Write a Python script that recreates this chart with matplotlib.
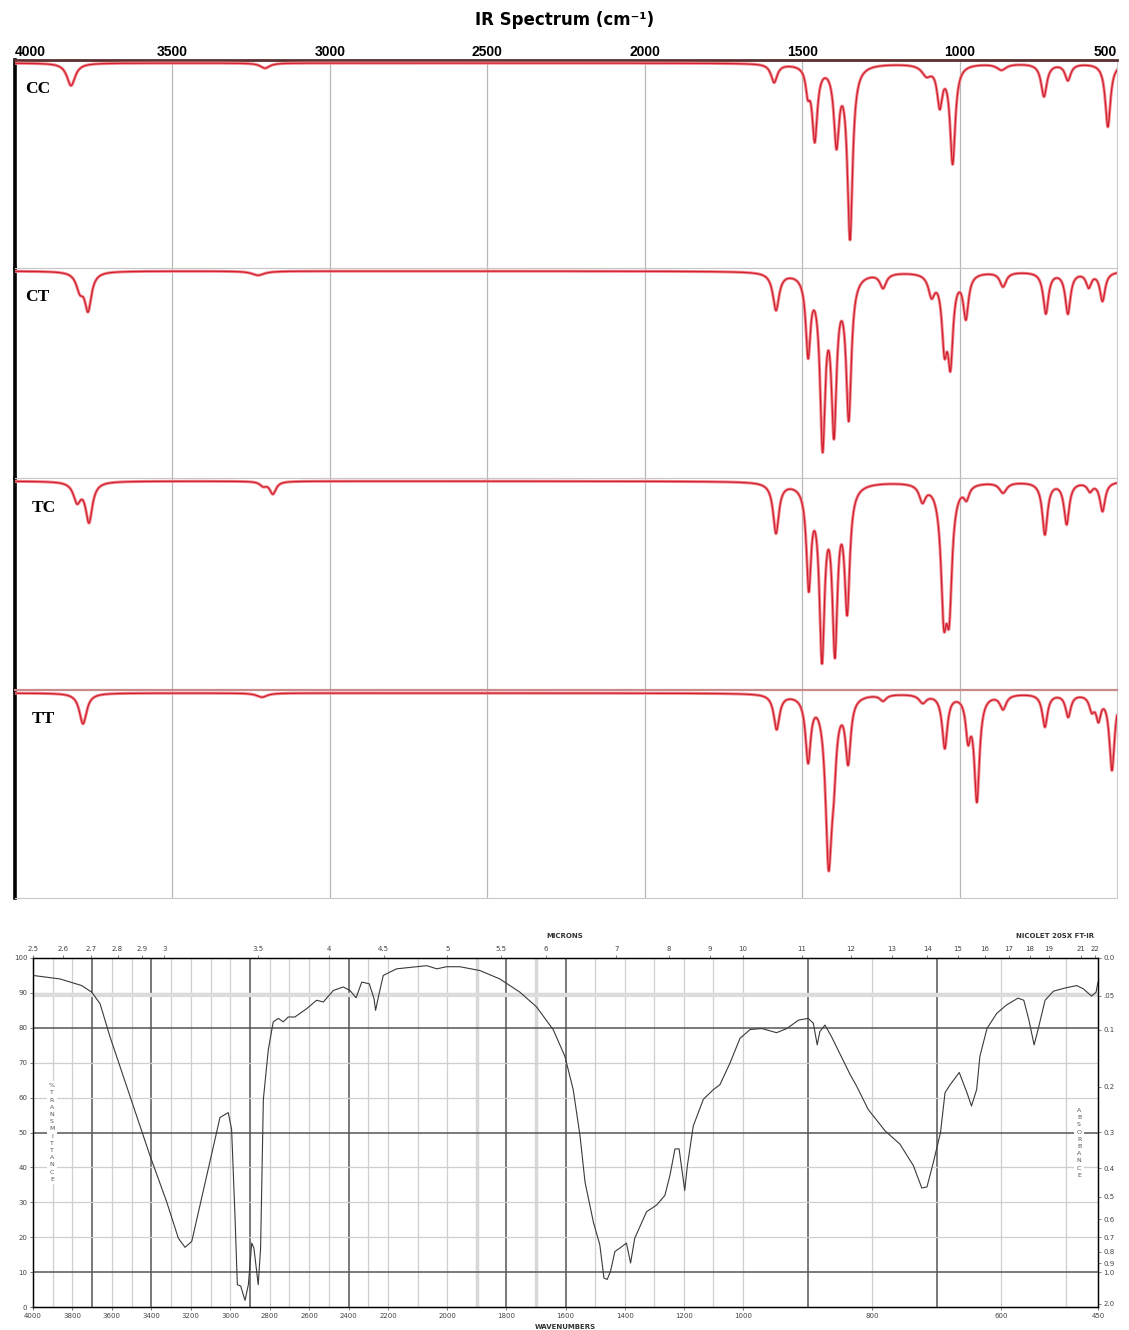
import numpy as np
import matplotlib
matplotlib.use("Agg")
import matplotlib.pyplot as plt

# ---- computed spectra (peak centre cm-1, depth as fraction of panel, half width cm-1)
cc_pos = [3822, 3206, 1589, 1482, 1460, 1391, 1348, 1105, 1063, 1022, 867, 732, 656, 529]
cc_int = [0.11, 0.025, 0.09, 0.11, 0.36, 0.37, 0.84, 0.05, 0.19, 0.48, 0.03, 0.16, 0.08, 0.31]
cc_wid = [16, 18, 12, 8, 10, 10, 10, 18, 10, 10, 18, 11, 11, 10]

ct_pos = [3794, 3768, 3228, 1583, 1481, 1435, 1399, 1352, 1243, 1089, 1048, 1029, 980, 862, 726, 656, 590, 546]
ct_int = [0.08, 0.18, 0.02, 0.18, 0.37, 0.80, 0.72, 0.68, 0.07, 0.10, 0.32, 0.40, 0.21, 0.07, 0.20, 0.20, 0.07, 0.14]
ct_wid = [14, 13, 24, 12, 9, 10, 10, 10, 12, 12, 10, 10, 10, 12, 10, 10, 10, 10]

tc_pos = [3803, 3765, 3212, 3181, 1583, 1479, 1437, 1396, 1357, 1118, 1050, 1033, 978, 862, 729, 660, 586, 546]
tc_int = [0.09, 0.19, 0.02, 0.06, 0.24, 0.47, 0.80, 0.76, 0.58, 0.08, 0.55, 0.53, 0.06, 0.05, 0.25, 0.20, 0.04, 0.14]
tc_wid = [14, 13, 12, 12, 11, 9, 10, 10, 10, 12, 11, 11, 10, 14, 10, 10, 10, 10]

tt_pos = [3784, 3216, 1581, 1481, 1416, 1400, 1354, 1243, 1117, 1047, 973, 945, 862, 729, 655, 580, 559, 516]
tt_int = [0.15, 0.02, 0.17, 0.31, 0.78, 0.25, 0.31, 0.03, 0.04, 0.26, 0.19, 0.51, 0.07, 0.16, 0.11, 0.07, 0.11, 0.37]
tt_wid = [14, 20, 11, 10, 12, 10, 10, 12, 14, 10, 9, 10, 12, 10, 10, 10, 9, 10]

panel_names = ["CC", "CT", "TC", "TT"]
top_ticks = [4000, 3500, 3000, 2500, 2000, 1500, 1000, 500]

# ---- measured FT-IR spectrum (wavenumber, %T)
ir_wn = [4000, 3863, 3753, 3702, 3660, 3610, 3508, 3407, 3322, 3263, 3229, 3195, 3119, 3052,
         3010, 2993, 2976, 2964, 2947, 2925, 2908, 2891, 2880, 2858, 2846, 2832, 2807, 2782,
         2756, 2731, 2706, 2672, 2612, 2562, 2528, 2477, 2427, 2393, 2362, 2333, 2295, 2271,
         2263, 2249, 2224, 2171, 2069, 2035, 2002, 1957, 1889, 1822, 1754, 1698, 1641, 1602,
         1574, 1551, 1534, 1506, 1484, 1470, 1459, 1448, 1433, 1416, 1394, 1380, 1366, 1326,
         1292, 1264, 1247, 1230, 1216, 1204, 1197, 1188, 1168, 1134, 1100, 1078, 1044, 1010,
         989, 971, 948, 932, 914, 899, 891, 885, 881, 873, 863, 834, 824, 806, 780, 757, 736,
         723, 715, 705, 694, 687, 679, 665, 653, 646, 638, 633, 622, 607, 592, 574, 565, 557,
         549, 543, 532, 519, 501, 483, 473, 460, 453, 450]
ir_t = [95.0, 94.0, 92.1, 90.2, 86.9, 77.5, 60.4, 43.4, 30.1, 19.7, 17.1, 18.8, 37.7, 54.3,
        55.7, 50.9, 26.3, 6.4, 6.0, 1.9, 6.4, 18.3, 16.9, 6.4, 16.9, 59.5, 73.7, 81.7,
        82.7, 81.7, 83.1, 83.1, 85.5, 87.9, 87.4, 90.7, 91.7, 90.7, 88.6, 93.1, 92.6, 88.4,
        85.0, 88.8, 95.0, 96.9, 97.8, 96.9, 97.5, 97.5, 96.4, 94.0, 90.2, 86.0, 79.4, 71.8,
        62.3, 49.1, 35.8, 24.4, 17.8, 8.3, 7.9, 10.2, 15.9, 16.9, 18.3, 12.6, 19.7, 27.3,
        29.2, 32.0, 37.7, 45.3, 45.3, 37.7, 33.4, 40.5, 51.9, 59.5, 62.3, 63.7, 69.9, 77.0,
        79.5, 79.8, 78.6, 79.8, 82.2, 82.7, 81.3, 75.1, 78.9, 80.8, 77.5, 66.6, 63.3, 56.6, 50.5, 46.7, 40.5,
        34.1, 34.4, 41.5, 50.0, 61.4, 63.7, 67.2, 61.4, 57.6, 62.3, 71.8, 79.8, 84.1, 86.5, 88.5, 87.9, 82.2,
        75.1, 79.4, 87.9, 90.5, 91.4, 92.1, 91.2, 89.1, 90.2, 93.1]

wn_ticks = [4000, 3800, 3600, 3400, 3200, 3000, 2800, 2600, 2400, 2200, 2000, 1800, 1600,
            1400, 1200, 1000, 800, 600, 450]
micron_ticks = [2.5, 2.6, 2.7, 2.8, 2.9, 3, 3.5, 4, 4.5, 5, 5.5, 6, 7, 8, 9, 10, 11, 12,
                13, 14, 15, 16, 17, 18, 19, 21, 22]
abs_ticks = [0.0, 0.05, 0.1, 0.2, 0.3, 0.4, 0.5, 0.6, 0.7, 0.8, 0.9, 1.0, 2.0]
abs_labels = ["0.0", ".05", "0.1", "0.2", "0.3", "0.4", "0.5", "0.6", "0.7", "0.8", "0.9", "1.0", "2.0"]
dark_vlines = [3700, 3400, 2900, 2400, 1800, 1600, 900, 700]

W, H = 1129, 1330
fig = plt.figure(figsize=(W / 100, H / 100), dpi=100)


def box(x0, y0, x1, y1):
    return [x0 / W, 1 - y1 / H, (x1 - x0) / W, (y1 - y0) / H]


# ================= top: four computed spectra =================
wn = np.linspace(4000, 500, 7001)
peaks = [(cc_pos, cc_int, cc_wid), (ct_pos, ct_int, ct_wid),
         (tc_pos, tc_int, tc_wid), (tt_pos, tt_int, tt_wid)]
edges = [60, 268, 478, 690, 898]

for i, (pos, amp, wid) in enumerate(peaks):
    ax = fig.add_axes(box(15, edges[i], 1117, edges[i + 1]))
    depth = np.zeros_like(wn)
    for c, a, g in zip(pos, amp, wid):
        depth += a / (1 + ((wn - c) / g) ** 2)
    ax.plot(wn, depth, color="#f28b92", lw=2.2, zorder=3)
    ax.plot(wn, depth, color="#d0202e", lw=0.9, zorder=4)
    ax.set_xlim(4000, 500)
    ax.set_ylim(1.0, -0.015)
    for g in [3500, 3000, 2500, 2000, 1500, 1000]:
        ax.axvline(g, color="#b8b8b8", lw=0.9, zorder=1)
    ax.set_yticks([])
    ax.spines["left"].set_color("black")
    ax.spines["left"].set_linewidth(2.6)
    ax.spines["right"].set_color("#cccccc")
    ax.spines["top"].set_color("#c8c8c8")
    ax.spines["top"].set_linestyle((0, (1, 1)))
    ax.spines["bottom"].set_color("#c8c8c8")
    ax.spines["bottom"].set_linestyle((0, (1, 1)))
    if i == 0:
        ax.spines["top"].set_linestyle("-")
        ax.spines["top"].set_color("#5a3030")
        ax.spines["top"].set_linewidth(2.0)
        ax.xaxis.tick_top()
        ax.set_xticks(top_ticks)
        ax.set_xticklabels([str(t) for t in top_ticks], fontsize=10, fontweight="bold",
                           family="Liberation Sans")
        ax.tick_params(axis="x", length=0, pad=1)
        labs = ax.get_xticklabels()
        labs[0].set_ha("left")
        labs[-1].set_ha("right")
    else:
        ax.set_xticks([])
    if i == 3:
        ax.spines["top"].set_linestyle("-")
        ax.spines["top"].set_color("#c98a8a")
        ax.spines["top"].set_linewidth(1.6)
    lx = 25 if i < 2 else 32
    ax.text((lx - 15) / 1102, 0.86, panel_names[i], transform=ax.transAxes,
            fontsize=12.5, fontweight="bold", family="Liberation Serif",
            ha="left", va="center")

fig.text(565 / W, 1 - 20 / H, "IR Spectrum (cm\u207b\u00b9)", ha="center", va="center",
         fontsize=12, fontweight="bold", family="DejaVu Sans")

# ================= bottom: measured spectrum on Nicolet chart =================
# chart paper: 4000-2200, 2200-1000 and 1000-450 cm-1 each take a third of the width
seg_wn = [450, 1000, 2200, 4000]
seg_pos = [0, 1, 2, 3]


def fwd(w):
    return np.interp(np.asarray(w, float), seg_wn, seg_pos)


def inv(p):
    return np.interp(np.asarray(p, float), seg_pos, seg_wn)


bx = fig.add_axes(box(33, 958, 1098, 1307))
bx.set_xscale("function", functions=(fwd, inv))
bx.set_xlim(4000, 450)
bx.set_ylim(0, 100)

for g in range(500, 4000, 100):
    if g in dark_vlines:
        bx.axvline(g, color="#555555", lw=1.1, zorder=1)
    else:
        bx.axvline(g, color="#cfcfcf", lw=0.9, zorder=1)
for g in [1900, 1700]:
    bx.axvline(g, color="#d8d8d8", lw=2.5, zorder=1)
for g in [90, 70, 60, 40, 30, 20]:
    bx.axhline(g, color="#cfcfcf", lw=0.9, zorder=1)
bx.axhline(89.3, color="#dcdcdc", lw=3, zorder=1)
for g in [80, 50, 10]:
    bx.axhline(g, color="#555555", lw=1.1, zorder=1)

bx.plot(ir_wn, ir_t, color="#3a3a3a", lw=0.8, zorder=4)

tick_font = dict(fontsize=5, color="#444444", family="DejaVu Sans")
bx.set_xticks(wn_ticks)
bx.set_xticklabels([str(t) for t in wn_ticks], **tick_font)
bx.xaxis.set_minor_locator(matplotlib.ticker.NullLocator())
bx.set_yticks(range(0, 101, 10))
bx.set_yticklabels([str(t) for t in range(0, 101, 10)], **tick_font)
bx.tick_params(length=2, width=0.6, pad=2, color="#666666")
for s in bx.spines.values():
    s.set_color("#444444")
    s.set_linewidth(1.0)

# micron axis on top
tx = bx.twiny()
tx.set_xscale("function", functions=(fwd, inv))
tx.set_xlim(4000, 450)
tx.set_xticks([10000 / m for m in micron_ticks])
tx.set_xticklabels([("%g" % m) for m in micron_ticks], **tick_font)
tx.xaxis.set_minor_locator(matplotlib.ticker.NullLocator())
tx.tick_params(length=2, width=0.6, pad=2, color="#666666")

# absorbance axis on right
ry = bx.twinx()
ry.set_ylim(0, 100)
ry.set_yticks([100 * 10 ** (-a) for a in abs_ticks])
ry.set_yticklabels(abs_labels, **tick_font)
ry.tick_params(length=2, width=0.6, pad=2, color="#666666")

bx.text((52 - 33) / 1065, 0.5, "\n".join("%TRANSMITTANCE"),
        transform=bx.transAxes, ha="center", va="center", fontsize=4.5, color="#555555",
        linespacing=1.55, family="DejaVu Sans",
        bbox=dict(facecolor="white", edgecolor="none", pad=1.5), zorder=5)
bx.text((1079 - 33) / 1065, 0.47, "\n".join("ABSORBANCE"),
        transform=bx.transAxes, ha="center", va="center", fontsize=4.5, color="#555555",
        linespacing=1.55, family="DejaVu Sans",
        bbox=dict(facecolor="white", edgecolor="none", pad=1.5), zorder=5)

fig.text(565 / W, 1 - 936 / H, "MICRONS", ha="center", va="center", fontsize=5,
         fontweight="bold", color="#333333")
fig.text(1055 / W, 1 - 936 / H, "NICOLET 20SX FT-IR", ha="center", va="center", fontsize=5,
         fontweight="bold", color="#333333")
fig.text(565 / W, 1 - 1327 / H, "WAVENUMBERS", ha="center", va="center", fontsize=5,
         fontweight="bold", color="#333333")

fig.savefig("out.png", dpi=100, facecolor="white")
